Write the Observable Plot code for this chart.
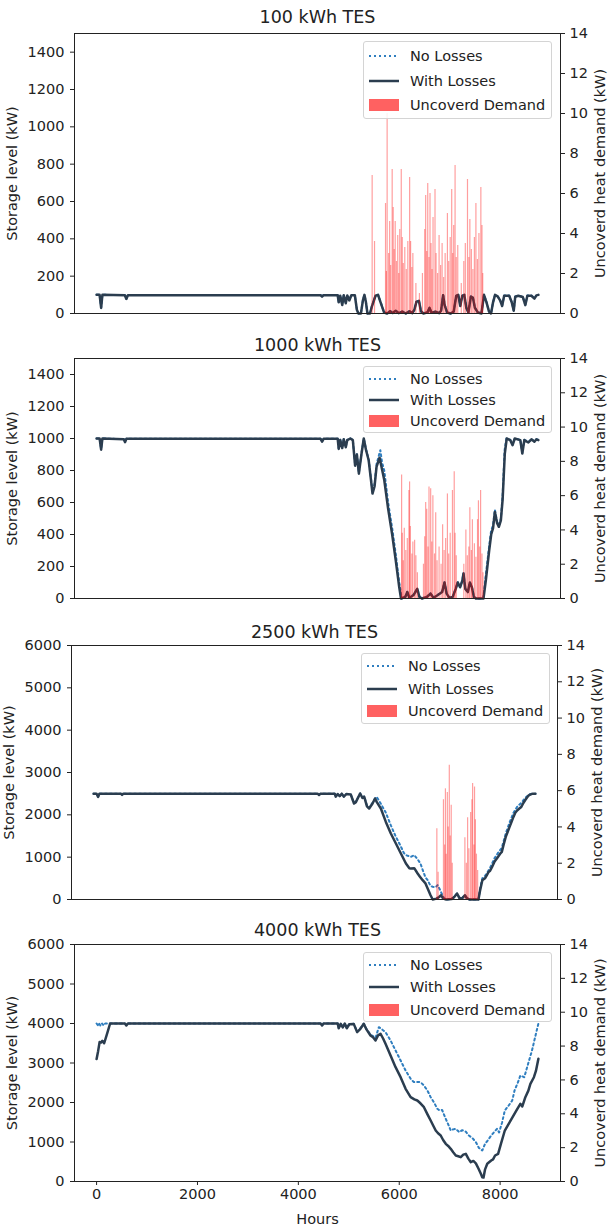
<!DOCTYPE html>
<html><head><meta charset="utf-8">
<script src="https://cdn.jsdelivr.net/npm/d3@7"></script>
<script src="https://cdn.jsdelivr.net/npm/@observablehq/plot@0.6"></script>
<style>
body{margin:0;background:#fff;font-family:"DejaVu Sans",sans-serif;}
#chart{width:608px;}
.panel{position:relative;width:608px;overflow:hidden;}
.panel svg{display:block;}
.legend{position:absolute;border:1px solid #d4d4d4;border-radius:3px;background:rgba(255,255,255,0.85);box-sizing:border-box;font-size:14.5px;color:#222;width:189px;}
.legend .row{position:absolute;left:0;width:100%;height:18px;line-height:18px;}
.legend .row svg{position:absolute;left:4px;top:3px;}
.legend .row span{position:absolute;left:46px;top:0;white-space:nowrap;}
</style>
</head><body><div id="chart"></div>
<script>
// ---------------- data (hour, value) ----------------
const titles = ["100 kWh TES", "1000 kWh TES", "2500 kWh TES", "4000 kWh TES"];
const legendLabels = ["No Losses", "With Losses", "Uncoverd Demand"];
const leftTicksSmall = [0, 200, 400, 600, 800, 1000, 1200, 1400];
const leftTicksLarge = [0, 1000, 2000, 3000, 4000, 5000, 6000];
const rightTicks = [0, 2, 4, 6, 8, 10, 12, 14];
const hourTicks = [0, 2000, 4000, 6000, 8000];

// Panel 1: 100 kWh
const p1WithLoss = [[0,100],[60,100],[90,30],[115,100],[560,98],[590,78],[620,98],[4440,98],[4470,90],[4500,98],[4780,98],[4800,60],[4830,95],[4870,45],[4900,98],[4940,55],[4970,97],[5010,70],[5050,98],[5120,98],[5160,20],[5190,0],[5240,0],[5280,70],[5310,100],[5340,60],[5370,0],[5420,0],[5460,40],[5530,95],[5580,100],[5630,60],[5700,5],[5760,0],[5820,12],[5870,3],[5930,15],[5990,2],[6060,10],[6130,0],[6200,12],[6260,2],[6300,20],[6340,62],[6390,68],[6430,12],[6480,0],[6560,6],[6600,30],[6640,4],[6720,10],[6790,2],[6830,15],[6870,98],[6900,45],[6950,5],[7020,0],[7080,10],[7130,95],[7170,100],[7210,40],[7250,95],[7290,100],[7330,30],[7370,5],[7420,90],[7460,85],[7500,30],[7560,5],[7630,0],[7680,100],[7730,60],[7780,10],[7820,0],[7860,60],[7900,100],[7950,92],[8000,70],[8040,40],[8080,95],[8180,95],[8230,60],[8270,15],[8300,90],[8360,95],[8450,88],[8500,45],[8540,95],[8620,95],[8680,80],[8720,97],[8759,100]];
const p1NoLoss = [[0,100],[60,100],[90,32],[115,100],[560,99],[590,80],[620,99],[4440,99],[4470,91],[4500,99],[4780,99],[4800,62],[4830,96],[4870,47],[4900,99],[4940,57],[4970,98],[5010,72],[5050,99],[5120,99],[5160,22],[5190,0],[5240,0],[5280,72],[5310,100],[5340,62],[5370,0],[5420,0],[5460,42],[5530,96],[5580,100],[5630,62],[5700,6],[5760,0],[5820,13],[5870,3],[5930,16],[5990,2],[6060,11],[6130,0],[6200,13],[6260,2],[6300,21],[6340,64],[6390,70],[6430,13],[6480,0],[6560,7],[6600,32],[6640,4],[6720,11],[6790,2],[6830,16],[6870,99],[6900,47],[6950,5],[7020,0],[7080,11],[7130,96],[7170,100],[7210,42],[7250,96],[7290,100],[7330,32],[7370,5],[7420,92],[7460,86],[7500,32],[7560,5],[7630,0],[7680,100],[7730,62],[7780,11],[7820,0],[7860,62],[7900,100],[7950,93],[8000,72],[8040,42],[8080,96],[8180,96],[8230,62],[8270,16],[8300,91],[8360,96],[8450,89],[8500,47],[8540,96],[8620,96],[8680,82],[8720,98],[8759,100]];
const p1Uncovered = [[5463,6.9],[5510,3.6],[5728,5.5],[5745,2.1],[5760,10.0],[5790,3.0],[5810,4.6],[5830,2.4],[5860,7.2],[5880,5.3],[5900,3.2],[5920,4.6],[5945,2.6],[5970,3.9],[5990,2.0],[6010,4.2],[6040,7.2],[6060,3.8],[6080,2.5],[6110,3.3],[6140,2.2],[6170,3.6],[6206,6.8],[6225,3.6],[6250,2.3],[6270,3.0],[6330,1.5],[6400,1.0],[6460,2.0],[6505,4.2],[6524,5.9],[6545,3.1],[6565,6.5],[6590,2.8],[6610,6.0],[6630,3.5],[6650,2.2],[6670,4.8],[6709,6.2],[6730,3.0],[6760,2.0],[6790,3.9],[6820,2.4],[6850,3.5],[6880,1.8],[6910,3.0],[6955,5.0],[6980,2.6],[7010,3.8],[7040,6.2],[7060,3.0],[7080,4.4],[7107,7.4],[7130,2.8],[7160,3.4],[7230,1.5],[7280,2.6],[7310,3.5],[7353,6.7],[7380,2.8],[7400,4.7],[7430,3.2],[7460,2.2],[7490,3.8],[7520,5.5],[7550,2.7],[7580,4.0],[7618,6.3],[7640,4.4],[7655,2.0]];

// Panel 2: 1000 kWh
const p2WithLoss = [[0,1000],[60,1000],[90,930],[115,1000],[540,995],[565,977],[590,998],[4440,998],[4470,980],[4500,998],[4780,998],[4800,935],[4830,990],[4870,940],[4900,995],[4940,945],[4970,990],[5030,1000],[5080,990],[5125,830],[5160,900],[5200,780],[5250,900],[5297,1000],[5340,930],[5394,864],[5440,740],[5470,656],[5510,700],[5550,823],[5610,880],[5650,820],[5703,740],[5780,560],[5860,400],[5930,240],[6000,70],[6035,0],[6120,10],[6160,40],[6200,5],[6280,20],[6357,60],[6400,10],[6450,0],[6550,10],[6620,30],[6680,5],[6760,20],[6850,40],[6897,100],[6940,30],[6990,5],[7060,10],[7120,60],[7160,100],[7206,70],[7250,110],[7274,156],[7310,60],[7360,40],[7400,100],[7440,70],[7480,10],[7520,0],[7670,0],[7717,114],[7784,302],[7823,400],[7860,440],[7896,540],[7940,470],[7975,448],[8015,489],[8050,620],[8093,906],[8131,1000],[8200,990],[8247,958],[8290,1000],[8400,990],[8440,906],[8480,990],[8560,975],[8620,995],[8680,980],[8720,995],[8759,990]];
const p2NoLoss = [[0,1000],[60,1000],[90,935],[115,1000],[540,996],[565,979],[590,999],[4440,999],[4470,982],[4500,999],[4780,999],[4800,938],[4830,992],[4870,943],[4900,996],[4940,948],[4970,992],[5030,1000],[5080,992],[5125,835],[5160,905],[5200,785],[5250,905],[5297,1000],[5340,935],[5394,870],[5440,750],[5470,665],[5510,712],[5550,840],[5625,927],[5660,850],[5703,800],[5780,600],[5860,440],[5930,280],[6000,100],[6050,0],[6120,12],[6160,42],[6200,6],[6280,22],[6357,62],[6400,12],[6450,0],[6550,12],[6620,32],[6680,6],[6760,22],[6850,42],[6897,102],[6940,32],[6990,6],[7060,12],[7120,62],[7160,102],[7206,72],[7250,112],[7274,158],[7310,62],[7360,42],[7400,102],[7440,72],[7480,12],[7520,0],[7665,0],[7710,130],[7780,320],[7820,420],[7860,460],[7896,555],[7940,480],[7975,460],[8015,500],[8050,650],[8090,930],[8125,1000],[8200,992],[8247,962],[8290,1000],[8400,992],[8440,910],[8480,992],[8560,978],[8620,996],[8680,983],[8720,996],[8759,992]];
const p2Uncovered = [[6047,7.2],[6060,3.8],[6080,2.2],[6100,4.1],[6130,2.8],[6160,3.5],[6192,6.3],[6205,6.8],[6220,4.2],[6250,2.6],[6270,3.3],[6305,3.4],[6330,2.5],[6360,1.5],[6480,2.0],[6505,3.6],[6524,5.6],[6545,5.2],[6570,3.0],[6590,6.5],[6623,6.4],[6645,3.3],[6667,6.0],[6700,2.6],[6723,5.0],[6750,2.2],[6790,3.0],[6830,2.0],[6860,4.3],[6890,2.8],[6920,3.5],[6955,6.1],[6980,2.6],[7010,3.8],[7055,6.3],[7090,7.4],[7107,3.8],[7130,2.5],[7280,2.0],[7321,4.0],[7350,2.5],[7380,3.0],[7400,5.3],[7430,2.8],[7450,4.6],[7490,3.2],[7520,2.4],[7552,4.6],[7570,5.7],[7595,3.0],[7613,6.3],[7640,2.6],[7660,1.5]];

// Panel 3: 2500 kWh
const p3WithLoss = [[0,2500],[60,2500],[90,2424],[115,2500],[540,2500],[565,2470],[590,2500],[4440,2500],[4470,2470],[4500,2500],[4780,2500],[4800,2430],[4840,2490],[4880,2440],[4920,2500],[4960,2430],[5010,2490],[5098,2480],[5163,2267],[5200,2300],[5284,2504],[5330,2400],[5364,2430],[5420,2200],[5463,2149],[5530,2267],[5580,2385],[5615,2300],[5695,2149],[5794,1833],[5893,1559],[5993,1323],[6092,1087],[6192,850],[6260,740],[6291,732],[6357,740],[6424,614],[6470,540],[6524,456],[6580,380],[6623,260],[6680,100],[6723,0],[6800,20],[6850,60],[6889,100],[6930,20],[6990,0],[7100,10],[7150,60],[7206,142],[7250,40],[7300,20],[7360,100],[7400,30],[7450,0],[7630,0],[7660,200],[7707,456],[7760,500],[7797,574],[7830,650],[7861,680],[7900,770],[7950,900],[8016,1006],[8060,1080],[8093,1125],[8130,1300],[8171,1479],[8210,1600],[8247,1715],[8290,1850],[8324,1951],[8360,2050],[8401,2109],[8440,2150],[8479,2187],[8520,2280],[8555,2345],[8600,2420],[8632,2464],[8680,2490],[8710,2500],[8759,2500]];
const p3NoLoss = [[0,2500],[60,2500],[90,2430],[115,2500],[540,2500],[565,2475],[590,2500],[4440,2500],[4470,2475],[4500,2500],[4780,2500],[4800,2435],[4840,2492],[4880,2445],[4920,2500],[4960,2435],[5010,2492],[5098,2485],[5163,2275],[5200,2310],[5284,2505],[5330,2410],[5364,2440],[5420,2215],[5463,2165],[5530,2285],[5600,2424],[5625,2400],[5700,2250],[5794,2050],[5893,1750],[5993,1480],[6050,1350],[6092,1250],[6150,1100],[6190,1050],[6290,1006],[6357,1050],[6424,950],[6480,850],[6524,700],[6580,520],[6623,456],[6680,320],[6723,300],[6780,290],[6820,340],[6860,250],[6900,141],[6950,30],[6990,0],[7100,12],[7150,62],[7206,145],[7250,42],[7300,22],[7360,102],[7400,32],[7450,0],[7630,0],[7660,250],[7707,500],[7760,560],[7797,620],[7861,750],[7900,850],[7950,980],[8016,1100],[8093,1220],[8171,1560],[8247,1820],[8324,2050],[8401,2200],[8479,2280],[8555,2400],[8632,2480],[8700,2500],[8759,2500]];
const p3Uncovered = [[6805,3.9],[6830,1.5],[6936,5.5],[6960,3.0],[6975,6.1],[6990,2.5],[7013,5.9],[7030,4.0],[7052,7.4],[7070,3.5],[7090,5.2],[7110,2.0],[7361,3.4],[7390,2.0],[7415,4.5],[7440,2.8],[7475,4.8],[7500,5.5],[7514,6.4],[7540,3.0],[7552,6.2],[7569,4.4],[7590,2.5],[7614,1.6]];

// Panel 4: 4000 kWh
const p4WithLoss = [[0,3100],[30,3300],[60,3530],[90,3520],[114,3560],[150,3500],[210,3750],[268,4000],[560,4000],[590,3950],[620,4000],[4440,4000],[4470,3950],[4500,4000],[4780,4000],[4800,3880],[4840,3990],[4880,3900],[4920,4000],[4960,3880],[5010,3980],[5098,3990],[5165,3781],[5220,3850],[5297,3993],[5350,3850],[5430,3697],[5480,3650],[5530,3570],[5580,3700],[5629,3740],[5680,3620],[5728,3487],[5828,3190],[5927,2894],[6027,2641],[6126,2347],[6226,2135],[6300,2080],[6358,2051],[6420,1980],[6490,1881],[6560,1700],[6623,1544],[6680,1400],[6723,1291],[6770,1220],[6822,1165],[6870,1050],[6922,954],[6970,900],[7021,827],[7070,740],[7121,658],[7170,640],[7220,616],[7270,680],[7320,700],[7370,580],[7419,489],[7470,520],[7519,460],[7570,330],[7618,194],[7646,109],[7671,100],[7700,300],[7745,448],[7823,532],[7860,560],[7900,658],[7960,700],[8016,954],[8093,1291],[8170,1460],[8247,1628],[8324,1798],[8401,1967],[8440,1900],[8500,2135],[8560,2300],[8600,2473],[8670,2640],[8710,2800],[8759,3107]];
const p4NoLoss = [[0,4000],[30,3950],[50,4000],[80,3940],[110,4000],[140,3950],[170,4000],[560,4000],[590,3960],[620,4000],[4440,4000],[4470,3955],[4500,4000],[4780,4000],[4800,3890],[4840,3990],[4880,3905],[4920,4000],[4960,3890],[5010,3985],[5098,3992],[5165,3790],[5220,3860],[5297,3995],[5350,3860],[5430,3720],[5480,3680],[5530,3640],[5596,3907],[5640,3870],[5728,3781],[5828,3570],[5927,3317],[6027,3064],[6126,2810],[6226,2600],[6290,2516],[6358,2520],[6420,2516],[6490,2431],[6560,2300],[6623,2135],[6690,2000],[6756,1840],[6800,1798],[6850,1810],[6922,1587],[6980,1420],[7021,1291],[7070,1320],[7121,1334],[7190,1250],[7250,1300],[7320,1260],[7380,1165],[7450,1100],[7519,996],[7580,850],[7646,785],[7700,950],[7760,1050],[7823,1165],[7880,1250],[7937,1334],[7980,1243],[8040,1500],[8093,1798],[8170,1924],[8240,2050],[8286,2304],[8350,2500],[8401,2684],[8479,2640],[8555,2980],[8632,3317],[8710,3740],[8759,4000]];
const p4Uncovered = [];

// ---------------- layout ----------------
const panels = [
  {title: titles[0], ymax: 1500, ticks: leftTicksSmall, noLoss: p1NoLoss, withLoss: p1WithLoss, unc: p1Uncovered,
   height: 330, mt: 33, mb: 17, ml: 74, mr: 48, titleDy: -16, xAxis: false,
   legend: {left: 363, top: 41, h: 78, rows: [14, 39, 63]}},
  {title: titles[1], ymax: 1500, ticks: leftTicksSmall, noLoss: p2NoLoss, withLoss: p2WithLoss, unc: p2Uncovered,
   height: 290, mt: 28, mb: 22, ml: 74, mr: 48, titleDy: -13, xAxis: false,
   legend: {left: 363, top: 36, h: 67, rows: [11.5, 32.5, 53.5]}},
  {title: titles[2], ymax: 6000, ticks: leftTicksLarge, noLoss: p3NoLoss, withLoss: p3WithLoss, unc: p3Uncovered,
   height: 295, mt: 25, mb: 16, ml: 71, mr: 51, titleDy: -13, xAxis: false,
   legend: {left: 361, top: 33, h: 71, rows: [12, 34.5, 56.5]}},
  {title: titles[3], ymax: 6000, ticks: leftTicksLarge, noLoss: p4NoLoss, withLoss: p4WithLoss, unc: p4Uncovered,
   height: 315, mt: 29, mb: 49, ml: 74, mr: 48, titleDy: -14, xAxis: true,
   legend: {left: 363, top: 37, h: 70, rows: [12, 34, 56.5]}}
];

const INK = "#222";
const noLossColor = "#2f7ebf";
const withLossColor = "#2b3d4f";
const redColor = "#ff0000";

const chart = document.getElementById("chart");

for (const p of panels) {
  const k = p.ymax / 14;
  const marks = [
    Plot.ruleY([0], {stroke: INK, strokeWidth: 1}),
    Plot.line(p.noLoss, {x: d => d[0], y: d => d[1], stroke: noLossColor, strokeWidth: 2, strokeDasharray: "2,3", strokeLinejoin: "round"}),
    Plot.line(p.withLoss, {x: d => d[0], y: d => d[1], stroke: withLossColor, strokeWidth: 2.5, strokeLinejoin: "round"}),
    Plot.ruleX(p.unc, {x: d => d[0], y1: 0, y2: d => d[1] * k, stroke: redColor, strokeOpacity: 0.38, strokeWidth: 1.2}),
    Plot.frame({stroke: INK, strokeWidth: 1}),
    Plot.axisY(p.ticks, {anchor: "left", tickSize: 4, tickPadding: 6, label: null, tickFormat: d => String(d), stroke: INK, fill: INK}),
    Plot.axisY(rightTicks.map(d => d * k), {anchor: "right", tickSize: 4, tickPadding: 5, label: null, tickFormat: d => String(Math.round(d / k)), stroke: INK, fill: INK}),
    Plot.text([p.title], {text: d => d, frameAnchor: "top", lineAnchor: "middle", textAnchor: "middle", dy: p.titleDy, fontSize: 17.5, fill: INK}),
    Plot.text(["Storage level (kW)"], {text: d => d, frameAnchor: "left", textAnchor: "middle", lineAnchor: "middle", dx: -62, rotate: -90, fill: INK}),
    Plot.text(["Uncoverd heat demand (kW)"], {text: d => d, frameAnchor: "right", textAnchor: "middle", lineAnchor: "middle", dx: 40, rotate: -90, fill: INK})
  ];
  if (p.xAxis) {
    marks.push(Plot.axisX(hourTicks, {tickSize: 4, tickPadding: 3, label: null, tickFormat: d => String(d), stroke: INK, fill: INK}));
    marks.push(Plot.text(["Hours"], {text: d => d, frameAnchor: "bottom", lineAnchor: "middle", textAnchor: "middle", dy: 38, fill: INK}));
  }
  const svg = Plot.plot({
    width: 608,
    height: p.height,
    marginTop: p.mt, marginBottom: p.mb, marginLeft: p.ml, marginRight: p.mr,
    style: {fontFamily: "DejaVu Sans", fontSize: "14.5px", color: INK, background: "#fff", overflow: "visible"},
    x: {domain: [-438, 9197], axis: null},
    y: {domain: [0, p.ymax], axis: null},
    marks
  });
  const div = document.createElement("div");
  div.className = "panel";
  div.style.height = p.height + "px";
  div.appendChild(svg);

  const lg = document.createElement("div");
  lg.className = "legend";
  lg.style.left = p.legend.left + "px";
  lg.style.top = p.legend.top + "px";
  lg.style.height = p.legend.h + "px";
  const samples = [
    `<svg width="32" height="12"><line x1="1" y1="6" x2="31" y2="6" stroke="${noLossColor}" stroke-width="2" stroke-dasharray="2,3"/></svg>`,
    `<svg width="32" height="12"><line x1="1" y1="6" x2="31" y2="6" stroke="${withLossColor}" stroke-width="2.5"/></svg>`,
    `<svg width="32" height="12"><rect x="1" y="0" width="30" height="12" fill="${redColor}" fill-opacity="0.62"/></svg>`
  ];
  legendLabels.forEach((lab, i) => {
    const row = document.createElement("div");
    row.className = "row";
    row.style.top = (p.legend.rows[i] - 9) + "px";
    row.innerHTML = samples[i] + `<span>${lab}</span>`;
    lg.appendChild(row);
  });
  div.appendChild(lg);
  chart.appendChild(div);
}
</script>
</body></html>
